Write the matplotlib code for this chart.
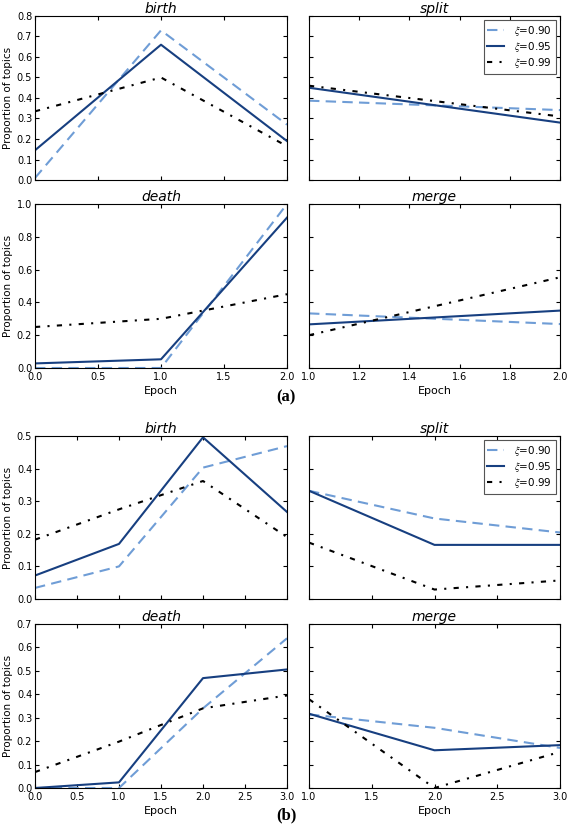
import numpy as np
import matplotlib
matplotlib.use("Agg")
import matplotlib.pyplot as plt

plt.rcParams['font.family'] = ['DejaVu Sans']
plt.rcParams['mathtext.fontset'] = 'stix'

# data: (a) group
a_x_left = [0, 1, 2]
a_x_right = [1, 2]
a_birth = {'0.90': [0.01, 0.73, 0.27], '0.95': [0.145, 0.66, 0.19], '0.99': [0.335, 0.50, 0.165]}
a_split = {'0.90': [0.387, 0.341], '0.95': [0.45, 0.28], '0.99': [0.46, 0.31]}
a_death = {'0.90': [0.0, 0.0, 1.0], '0.95': [0.028, 0.053, 0.917], '0.99': [0.25, 0.30, 0.45]}
a_merge = {'0.90': [0.333, 0.268], '0.95': [0.266, 0.35], '0.99': [0.20, 0.553]}

# data: (b) group
b_x_left = [0, 1, 2, 3]
b_x_right = [1, 2, 3]
b_birth = {'0.90': [0.034, 0.10, 0.403, 0.469], '0.95': [0.072, 0.169, 0.496, 0.267], '0.99': [0.182, 0.275, 0.362, 0.19]}
b_split = {'0.90': [0.332, 0.247, 0.204], '0.95': [0.332, 0.166, 0.166], '0.99': [0.173, 0.029, 0.057]}
b_death = {'0.90': [0.0, 0.0, 0.34, 0.639], '0.95': [0.0, 0.024, 0.469, 0.506], '0.99': [0.068, 0.198, 0.34, 0.395]}
b_merge = {'0.90': [0.314, 0.257, 0.171], '0.95': [0.317, 0.161, 0.183], '0.99': [0.379, 0.0, 0.154]}

xis = ['0.90', '0.95', '0.99']
styles = {
    '0.90': dict(color='#6f9dd6', ls=(0, (5, 3)), lw=1.5),
    '0.95': dict(color='#173f80', ls='-', lw=1.5),
    '0.99': dict(color='black', ls=(0, (2.5, 3.5, 1, 3.5)), lw=1.5),
}

W, H = 568, 825
fig = plt.figure(figsize=(W / 100, H / 100), dpi=100)


def make_ax(x0, x1, y0, y1):
    return fig.add_axes([x0 / W, 1 - y1 / H, (x1 - x0) / W, (y1 - y0) / H])


def draw(ax, x, series, title, ylim, yticks, xlim, xticks, show_xlabels, show_ylabels, legend=False):
    for xi in xis:
        ax.plot(x, series[xi], label=r'$\xi$=' + xi, **styles[xi])
    ax.set_xlim(xlim)
    ax.set_ylim(ylim)
    ax.set_xticks(xticks)
    ax.set_yticks(yticks)
    ax.tick_params(direction='in', top=True, right=True, labelsize=7, length=3, pad=2)
    ax.tick_params(axis='x', pad=3)
    ax.set_title(title, style='italic', fontsize=10, pad=2)
    if show_xlabels:
        ax.set_xticklabels(['%.1f' % t for t in xticks])
    else:
        ax.set_xticklabels([])
    if show_ylabels:
        ax.set_yticklabels(['%.1f' % t for t in yticks])
        ax.set_ylabel('Proportion of topics', fontsize=7.5, labelpad=3)
    else:
        ax.set_yticklabels([])
    if legend:
        leg = ax.legend(loc='upper right', fontsize=7.5, fancybox=False, edgecolor='#555555',
                        handlelength=1.6, handletextpad=1.0, borderpad=0.35, labelspacing=0.2,
                        framealpha=1, borderaxespad=0.4)
        leg.get_frame().set_linewidth(0.8)


cols = [(35, 287), (309, 560)]

# group (a)
ax = make_ax(*cols[0], 16, 180)
draw(ax, a_x_left, a_birth, 'birth', (0, 0.8), np.arange(0, 0.81, 0.1), (0, 2), np.arange(0, 2.01, 0.5), False, True)
ax = make_ax(*cols[1], 16, 180)
draw(ax, a_x_right, a_split, 'split', (0, 0.8), np.arange(0, 0.81, 0.1), (1, 2), np.arange(1, 2.01, 0.2), False, False, legend=True)
ax = make_ax(*cols[0], 204, 368)
draw(ax, a_x_left, a_death, 'death', (0, 1.0), np.arange(0, 1.01, 0.2), (0, 2), np.arange(0, 2.01, 0.5), True, True)
ax.set_xlabel('Epoch', fontsize=8, labelpad=3)
ax = make_ax(*cols[1], 204, 368)
draw(ax, a_x_right, a_merge, 'merge', (0, 1.0), np.arange(0, 1.01, 0.2), (1, 2), np.arange(1, 2.01, 0.2), True, False)
ax.set_xlabel('Epoch', fontsize=8, labelpad=3)
fig.text(286 / W, 1 - 397 / H, '(a)', family='Liberation Serif', weight='bold', fontsize=12, ha='center', va='center')

# group (b)
ax = make_ax(*cols[0], 436, 599)
draw(ax, b_x_left, b_birth, 'birth', (0, 0.5), np.arange(0, 0.51, 0.1), (0, 3), np.arange(0, 3.01, 0.5), False, True)
ax = make_ax(*cols[1], 436, 599)
draw(ax, b_x_right, b_split, 'split', (0, 0.5), np.arange(0, 0.51, 0.1), (1, 3), np.arange(1, 3.01, 0.5), False, False, legend=True)
ax = make_ax(*cols[0], 624, 788)
draw(ax, b_x_left, b_death, 'death', (0, 0.7), np.arange(0, 0.71, 0.1), (0, 3), np.arange(0, 3.01, 0.5), True, True)
ax.set_xlabel('Epoch', fontsize=8, labelpad=3)
ax = make_ax(*cols[1], 624, 788)
draw(ax, b_x_right, b_merge, 'merge', (0, 0.7), np.arange(0, 0.71, 0.1), (1, 3), np.arange(1, 3.01, 0.5), True, False)
ax.set_xlabel('Epoch', fontsize=8, labelpad=3)
fig.text(286 / W, 1 - 815 / H, '(b)', family='Liberation Serif', weight='bold', fontsize=12, ha='center', va='center')

fig.savefig('out.png', dpi=100)
